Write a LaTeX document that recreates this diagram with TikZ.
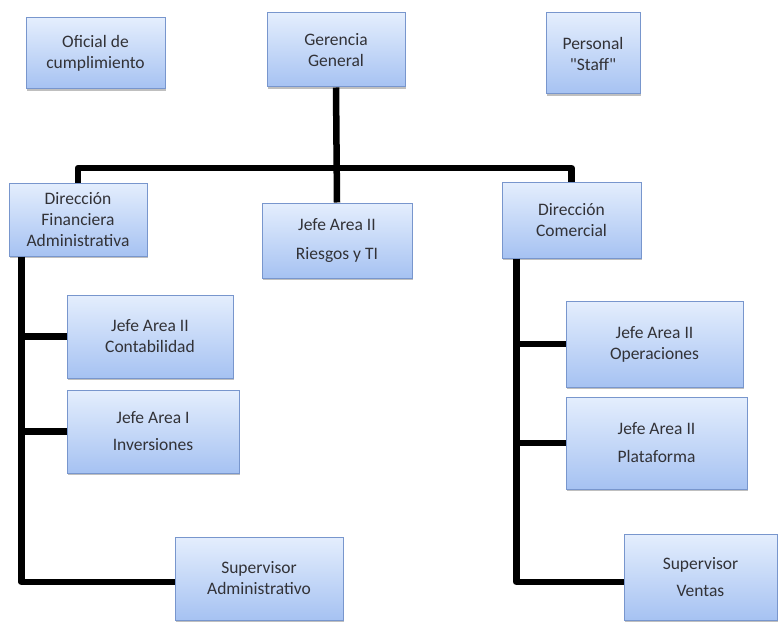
\documentclass[tikz,border=0pt]{standalone}
\usepackage{fontspec}
\setmainfont{Carlito}
\usetikzlibrary{shadows}
\definecolor{boxtop}{RGB}{228,238,253}
\definecolor{boxbot}{RGB}{166,194,242}
\definecolor{boxline}{RGB}{120,150,205}
\definecolor{txt}{RGB}{50,50,55}
\begin{document}
\begin{tikzpicture}[x=1pt,y=-1pt,
  unit/.style={draw=boxline, line width=1pt, top color=boxtop, bottom color=boxbot,
    text=txt, align=center, inner sep=0pt, font=\fontsize{17.5}{21}\selectfont,
    drop shadow={shadow xshift=1pt, shadow yshift=-2pt, opacity=0.25, fill=black}},
  link/.style={line width=6.5pt, black, line join=round}]
\useasboundingbox (0,0) rectangle (779,623);
\fill[white] (0,0) rectangle (779,623);

% top level
\node[unit, minimum width=139pt, minimum height=71pt] (oc) at (95.5,53.5) {Oficial de\\cumplimiento};
\node[unit, minimum width=138pt, minimum height=74pt] (gg) at (336,50) {Gerencia\\General};
\node[unit, minimum width=94pt, minimum height=81pt] (ps) at (593,53.5) {Personal\\\textquotedbl Staff\textquotedbl};

% second level
\node[unit, minimum width=138pt, minimum height=73pt] (dfa) at (78,219.5) {Dirección\\Financiera\\Administrativa};
\node[unit, minimum width=150pt, minimum height=75pt] (rt) at (337,240.5) {Jefe Area II\\[8pt]Riesgos y TI};
\node[unit, minimum width=139pt, minimum height=76pt] (dc) at (571.5,220) {Dirección\\Comercial};

% finance branch
\node[unit, minimum width=166pt, minimum height=83pt] (cont) at (150,336.5) {Jefe Area II\\Contabilidad};
\node[unit, minimum width=172pt, minimum height=83pt] (inv) at (153,431.5) {Jefe Area I\\[6pt]Inversiones};
\node[unit, minimum width=168pt, minimum height=83pt] (sa) at (259,578.5) {Supervisor\\Administrativo};

% commercial branch
\node[unit, minimum width=177pt, minimum height=86pt] (op) at (654.5,344) {Jefe Area II\\Operaciones};
\node[unit, minimum width=181pt, minimum height=92pt] (pl) at (656.5,443) {Jefe Area II\\[7pt]Plataforma};
\node[unit, minimum width=153pt, minimum height=86pt] (sv) at (700.5,577) {Supervisor\\[6pt]Ventas};

% connectors
\coordinate (bar) at (337,168);
\draw[link] (gg.south) -- (rt.north);
\draw[link] (dfa.north) |- (bar) -| (dc.north);

\coordinate (lf) at ([xshift=13pt]dfa.south west);
\draw[link] (lf) |- ([yshift=-3.5pt]sa.west);
\draw[link] (lf |- cont.west) -- (cont.west);
\draw[link] (lf |- inv.west) -- (inv.west);

\coordinate (rg) at ([xshift=15pt]dc.south west);
\draw[link] (rg) |- ([yshift=-5pt]sv.west);
\draw[link] (rg |- op.west) -- (op.west);
\draw[link] (rg |- pl.west) -- (pl.west);
\end{tikzpicture}
\end{document}
